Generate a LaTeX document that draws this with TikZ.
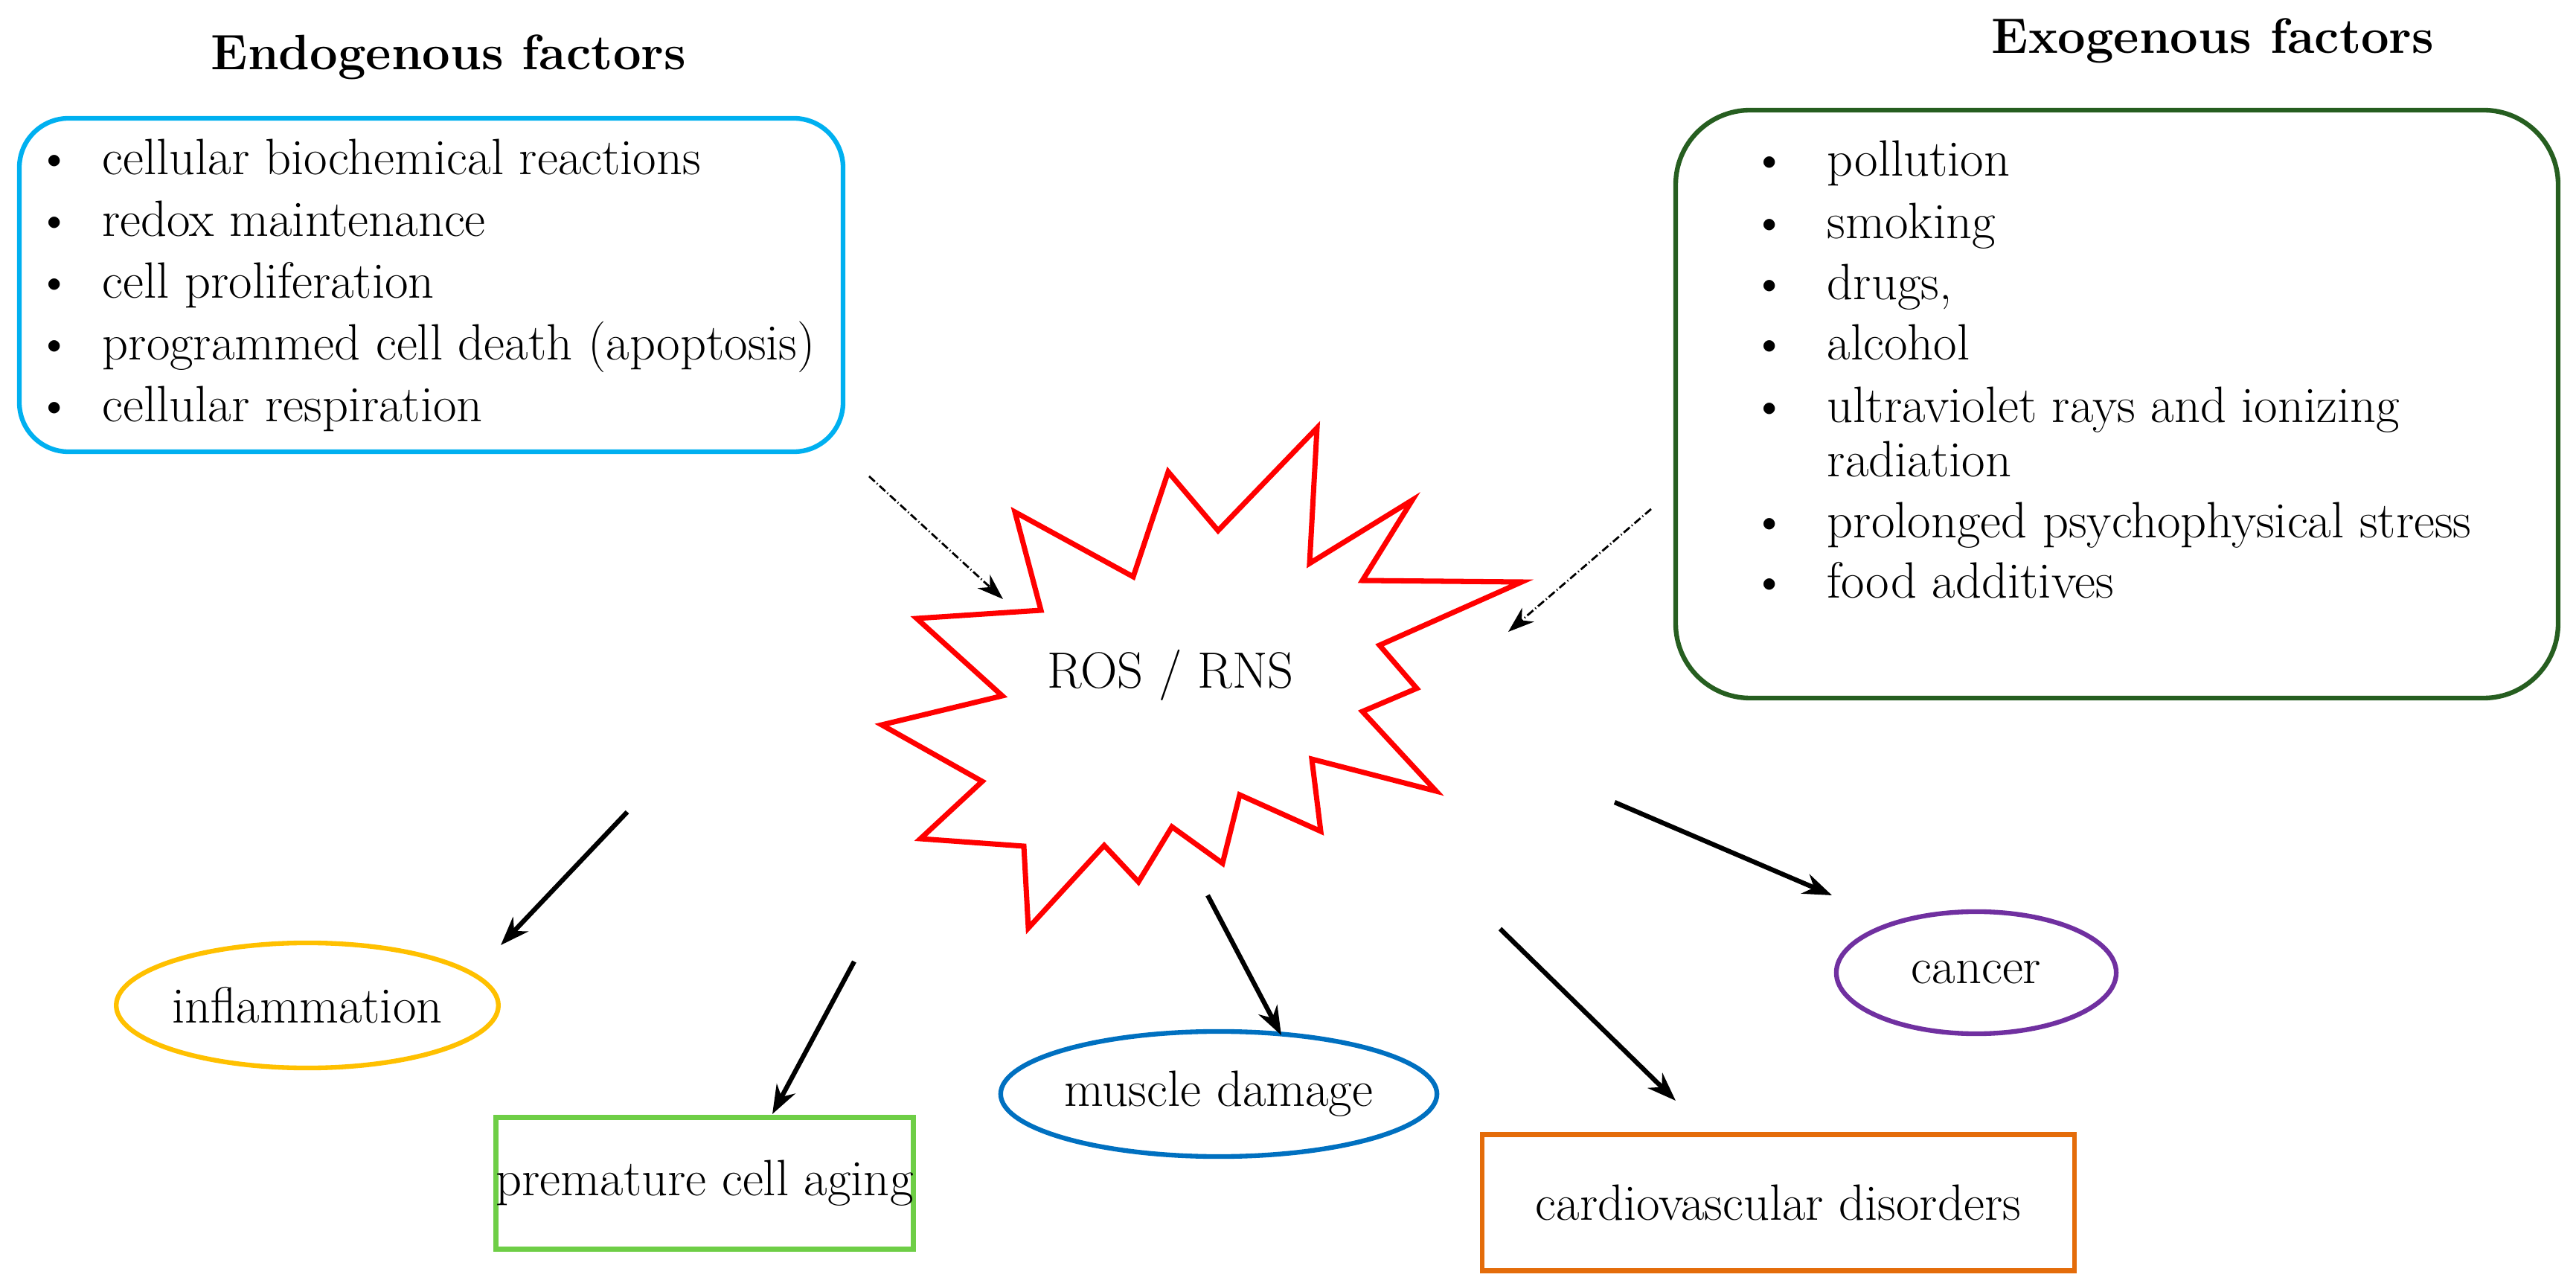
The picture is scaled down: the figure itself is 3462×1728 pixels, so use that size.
\documentclass[tikz,border=0pt]{standalone}
\usetikzlibrary{arrows.meta,shapes.geometric}
\begin{document}
\begin{tikzpicture}[x=0.01cm,y=-0.01cm,
  txt/.style={anchor=base west,inner sep=0pt,font=\fontsize{19.5}{24}\selectfont},
  bul/.style={anchor=base,inner sep=0pt,font=\fontsize{19.5}{24}\selectfont},
  ttl/.style={inner sep=0pt,font=\fontsize{19}{24}\selectfont\bfseries},
  dotarr/.style={densely dash dot,line width=0.8pt,-{Stealth[length=10pt,width=7pt]}},
  arr/.style={line width=1.8pt,-{Stealth[length=11pt,width=8pt]}},
  outc/.style={line width=1.8pt,inner sep=0pt,font=\fontsize{19.5}{24}\selectfont}]
\useasboundingbox (0,0) rectangle (3462,1728);
\definecolor{cyanb}{RGB}{0,176,240}
\definecolor{greenb}{RGB}{38,94,32}
\definecolor{yel}{RGB}{255,192,0}
\definecolor{lgreen}{RGB}{110,206,70}
\definecolor{blu}{RGB}{0,112,192}
\definecolor{org}{RGB}{228,108,10}
\definecolor{pur}{RGB}{112,48,160}

\node[ttl] (endt) at (603,77) {Endogenous factors};
\draw[cyanb,line width=1.8pt,rounded corners=0.66cm] (26,159) rectangle (1133,607);
\foreach \t [count=\i] in {cellular biochemical reactions,redox maintenance,cell proliferation,programmed cell death (apoptosis),cellular respiration}{
  \node[bul] (eb\i) at (73,{221+83*(\i-1)+14}) {\textbullet};
  \node[txt] (et\i) at (137,{221+83*(\i-1)+14}) {\t};
}

\node[ttl] (exot) at (2974,55) {Exogenous factors};
\draw[greenb,line width=1.8pt,rounded corners=1cm] (2252,148) rectangle (3438,938);
\foreach \t/\y in {pollution/223,smoking/307,{drugs,}/389,alcohol/470,ultraviolet rays and ionizing/554,prolonged psychophysical stress/709,food additives/790}{
  \node[bul] at (2378,\y+14) {\textbullet};
  \node[txt] at (2455,\y+14) {\t};
}
\node[txt] (rad) at (2455,641) {radiation};

\draw[red,line width=2pt,line join=miter] (1770,575) -- (1760,757) -- (1898,672) -- (1831,780) -- (2045,782) -- (1854,867) -- (1904,925) -- (1831,956) -- (1930,1063) -- (1763,1020) -- (1775,1117) -- (1666,1068) -- (1643,1160) -- (1575,1111) -- (1530,1185) -- (1484,1136) -- (1382,1247) -- (1376,1137) -- (1237,1127) -- (1320,1050) -- (1185,974) -- (1347,935) -- (1232,831) -- (1399,820) -- (1364,688) -- (1523,775) -- (1570,634) -- (1637,713) -- cycle;
\node[inner sep=0pt,font=\fontsize{19.5}{24}\selectfont] (ros) at (1573,907) {ROS / RNS};

\coordinate (d1s) at (1168,640); \coordinate (d1e) at (1348,805);
\coordinate (d2s) at (2219,684); \coordinate (d2e) at (2027,849);
\draw[dotarr] (d1s) -- (d1e);
\draw[dotarr] (d2s) -- (d2e);

\node[outc,draw=yel,ellipse,minimum width=4.64cm,minimum height=1.68cm] (inf) at (413,1351) {inflammation};
\node[outc,draw=lgreen,rectangle,minimum width=5.43cm,minimum height=1.77cm] (pre) at (947,1590) {premature cell aging};
\node[outc,draw=blu,ellipse,minimum width=5.08cm,minimum height=1.68cm] (mus) at (1638,1470) {muscle damage};
\node[outc,draw=org,rectangle,minimum width=7.95cm,minimum height=1.83cm] (car) at (2390,1616) {cardiovascular disorders};
\node[outc,draw=pur,ellipse,minimum width=3.76cm,minimum height=1.64cm] (can) at (2656,1307) {cancer};

\coordinate (a1) at (843,1091); \coordinate (a2) at (1148,1292); \coordinate (a3) at (1623,1203);
\coordinate (a4) at (2016,1248); \coordinate (a5) at (2170,1078);
\draw[arr] (a1) -- (673,1270);
\draw[arr] (a2) -- (1038,1497);
\draw[arr] (a3) -- (1722,1391);
\draw[arr] (a4) -- (2252,1479);
\draw[arr] (a5) -- (2462,1203);
\end{tikzpicture}
\end{document}
